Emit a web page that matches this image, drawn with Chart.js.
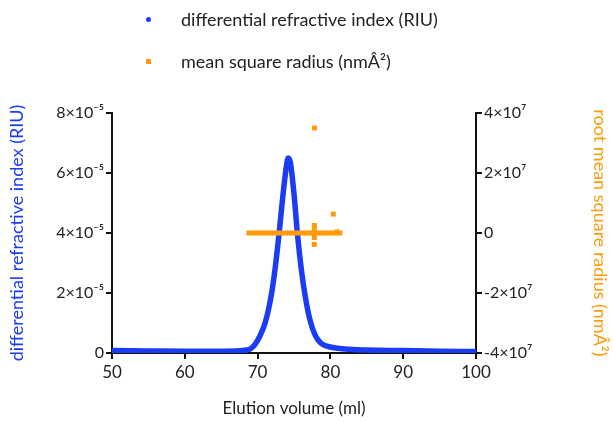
<!DOCTYPE html>
<html>
<head>
<meta charset="utf-8">
<script src="https://cdn.jsdelivr.net/npm/chart.js@4"></script>
<style>
  html, body { margin: 0; padding: 0; background: #fff; }
  #wrap { position: relative; width: 613px; height: 423px; }
  #legend { position: absolute; left: 0; top: 0; font-family: Lato, "Open Sans", sans-serif; font-size: 18px; color: #222; }
  .item { position: absolute; left: 181px; white-space: nowrap; }
  .mark { position: absolute; left: -35px; top: 50%; }
  .dot { width: 5px; height: 5px; border-radius: 50%; background: #1a3cf5; margin-top: -2px; }
  .sq { width: 5px; height: 5px; background: #ff9a0a; margin-top: -2px; }
</style>
</head>
<body>
<div id="wrap">
  <canvas id="chart" width="613" height="423"></canvas>
  <div id="legend">
    <div class="item" style="top:8px;"><span class="mark dot"></span>differential refractive index (RIU)</div>
    <div class="item" style="top:50px;"><span class="mark sq"></span>mean square radius (nmÂ²)</div>
  </div>
</div>
<script>
// Refractive index trace (RIU, x1e-5 scaled below)
const elutionVolumes = [50, 55, 60, 65, 67, 68, 68.5, 69, 69.5, 70, 70.5, 71, 71.5, 72, 72.5, 73, 73.5, 74, 74.2, 74.5, 75, 75.5, 76, 76.5, 77, 77.5, 78, 78.5, 79, 80, 81, 82, 85, 90, 95, 100];
const riValues = [0.08, 0.07, 0.06, 0.06, 0.065, 0.08, 0.1, 0.14, 0.24, 0.42, 0.66, 0.98, 1.45, 2.1, 3.0, 4.1, 5.3, 6.3, 6.5, 6.35, 5.3, 3.9, 2.8, 1.95, 1.3, 0.85, 0.55, 0.38, 0.28, 0.2, 0.16, 0.13, 0.1, 0.08, 0.06, 0.05];

// Mean square radius points (nm^2)
const radiusVolumes = [68.8, 69.3, 69.8, 70.3, 70.8, 71.3, 71.8, 72.3, 72.8, 73.3, 73.8, 74.3, 74.8, 75.3, 75.8, 76.3, 76.8, 77.3, 77.8, 78.3, 78.8, 79.3, 79.8, 80.3, 80.8, 81.3,
                       77.8, 77.8, 77.8, 77.8, 77.8, 80.4, 80.9];
const radiusValues = [0, 0, 0, 0, 0, 0, 0, 0, 0, 0, 0, 0, 0, 0, 0, 0, 0, 0, 0, 0, 0, 0, 0, 0, 0, 0,
                      2.5e6, 1.2e6, -1.5e6, -3.8e6, 3.5e7, 6.3e6, 4e5];

const xTicks = ['50', '60', '70', '80', '90', '100'];
const leftTickLabels = ['0', '2×10⁻⁵', '4×10⁻⁵', '6×10⁻⁵', '8×10⁻⁵'];
const rightTickLabels = ['-4×10⁷', '-2×10⁷', '0', '2×10⁷', '4×10⁷'];

const blue = '#1a3cf5';
const orange = '#ff9a0a';
const ink = '#222';
const fontFamily = 'Lato, "Open Sans", sans-serif';

const riData = elutionVolumes.map((x, i) => ({ x: x, y: riValues[i] * 1e-5 }));
const radiusData = radiusVolumes.map((x, i) => ({ x: x, y: radiusValues[i] }));

const axisGrid = { drawOnChartArea: false, drawTicks: true, tickLength: 6, color: '#111', lineWidth: 2 };
const axisBorder = { display: true, color: '#111', width: 2 };

new Chart(document.getElementById('chart'), {
    type: 'line',
    data: {
        datasets: [
            {
                label: 'mean square radius (nmÂ²)',
                data: radiusData,
                yAxisID: 'yR',
                showLine: false,
                pointStyle: 'rect',
                pointRadius: 3.5,
                backgroundColor: orange,
                borderColor: orange,
                borderWidth: 0
            },
            {
                label: 'differential refractive index (RIU)',
                data: riData,
                yAxisID: 'yL',
                borderColor: blue,
                borderWidth: 5.5,
                pointRadius: 0,
                cubicInterpolationMode: 'monotone',
                fill: false
            }
        ]
    },
    options: {
        responsive: false,
        animation: false,
        layout: { padding: { top: 113, left: 0, right: 0, bottom: 0 } },
        plugins: { legend: { display: false }, tooltip: { enabled: false } },
        scales: {
            x: {
                type: 'linear', min: 50, max: 100,
                grid: axisGrid, border: axisBorder,
                afterBuildTicks: s => { s.ticks = xTicks.map(v => ({ value: Number(v) })); },
                ticks: { color: ink, font: { family: fontFamily, size: 17 }, padding: 3, callback: (v, i) => xTicks[i] },
                title: { display: true, text: 'Elution volume (ml)', color: ink, font: { family: fontFamily, size: 17 }, padding: { top: 0, bottom: 4 } },
                afterFit: s => { s.height = 70; }
            },
            yL: {
                type: 'linear', position: 'left', min: 0, max: 8e-5,
                grid: axisGrid, border: axisBorder,
                afterBuildTicks: s => { s.ticks = leftTickLabels.map((t, i) => ({ value: i * 2e-5 })); },
                ticks: { color: ink, font: { family: fontFamily, size: 16 }, padding: 2, callback: (v, i) => leftTickLabels[i] },
                title: { display: true, text: 'differential refractive index (RIU)', color: blue, font: { family: fontFamily, size: 18 }, padding: { top: 6, bottom: 7 } },
                afterFit: s => { s.width = 112; }
            },
            yR: {
                type: 'linear', position: 'right', min: -4e7, max: 4e7,
                grid: axisGrid, border: axisBorder,
                afterBuildTicks: s => { s.ticks = rightTickLabels.map((t, i) => ({ value: -4e7 + i * 2e7 })); },
                ticks: { color: ink, font: { family: fontFamily, size: 16 }, padding: 2, callback: (v, i) => rightTickLabels[i] },
                title: { display: true, text: 'root mean square radius (nmÂ²)', color: orange, font: { family: fontFamily, size: 18 }, padding: { top: 2, bottom: 5 } },
                afterFit: s => { s.width = 137; }
            }
        }
    }
});
</script>
</body>
</html>
